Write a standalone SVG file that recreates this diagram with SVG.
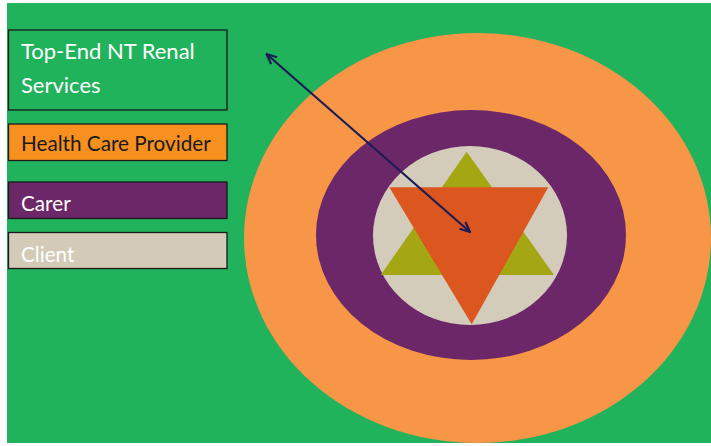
<svg xmlns="http://www.w3.org/2000/svg" width="711" height="446" viewBox="0 0 711 446">
<defs>
<style>
.box{stroke:#1a1a1a;stroke-width:1.3}
.lbl{font-family:Lato,"Liberation Sans",sans-serif;font-size:20.7px}
.big{font-size:22px}
</style>
<marker id="ah" viewBox="0 0 12 12" refX="11" refY="6" markerWidth="12" markerHeight="12" markerUnits="userSpaceOnUse" orient="auto-start-reverse">
<path d="M1,1.5 L11,6 L1,10.5" fill="none" stroke="#1c1c55" stroke-width="2.2"/>
</marker>
</defs>
<rect width="711" height="446" fill="#ffffff"/>
<rect x="7" y="3" width="704" height="440" fill="#21b25c"/>
<g id="target">
<ellipse cx="477.5" cy="238" rx="233.5" ry="205" fill="#f79646"/>
<ellipse cx="471" cy="235" rx="155" ry="125" fill="#6b2768"/>
<ellipse cx="470" cy="235.5" rx="97" ry="89.5" fill="#d4ccba"/>
<polygon points="466.7,151.7 380.7,275 554,275" fill="#a5a614"/>
<polygon points="389.3,187.3 548.3,187.3 471.7,324.3" fill="#dc561f"/>
</g>
<g id="legend-renal">
<rect class="box" x="8.5" y="30" width="218.5" height="80" fill="#21b25c"/>
<text class="lbl big" x="21" y="59" fill="#ffffff">Top-End NT Renal</text>
<text class="lbl big" x="21" y="92.5" fill="#ffffff">Services</text>
</g>
<g id="legend-provider">
<rect class="box" x="8.5" y="124" width="218.5" height="36.5" fill="#f7901e"/>
<text class="lbl" x="21" y="151" fill="#1a1a1a">Health Care Provider</text>
</g>
<g id="legend-carer">
<rect class="box" x="8.5" y="182" width="218.5" height="36.5" fill="#6b2768"/>
<text class="lbl" x="21" y="210.5" fill="#ffffff">Carer</text>
</g>
<g id="legend-client">
<rect class="box" x="8.5" y="232.5" width="218.5" height="36" fill="#d3cbb8"/>
<text class="lbl" x="21" y="261.5" fill="#ffffff">Client</text>
</g>
<g id="connectors">
<line x1="266.5" y1="54" x2="470" y2="232" stroke="#1c1c55" stroke-width="2.2" marker-start="url(#ah)" marker-end="url(#ah)"/>
</g>
</svg>
